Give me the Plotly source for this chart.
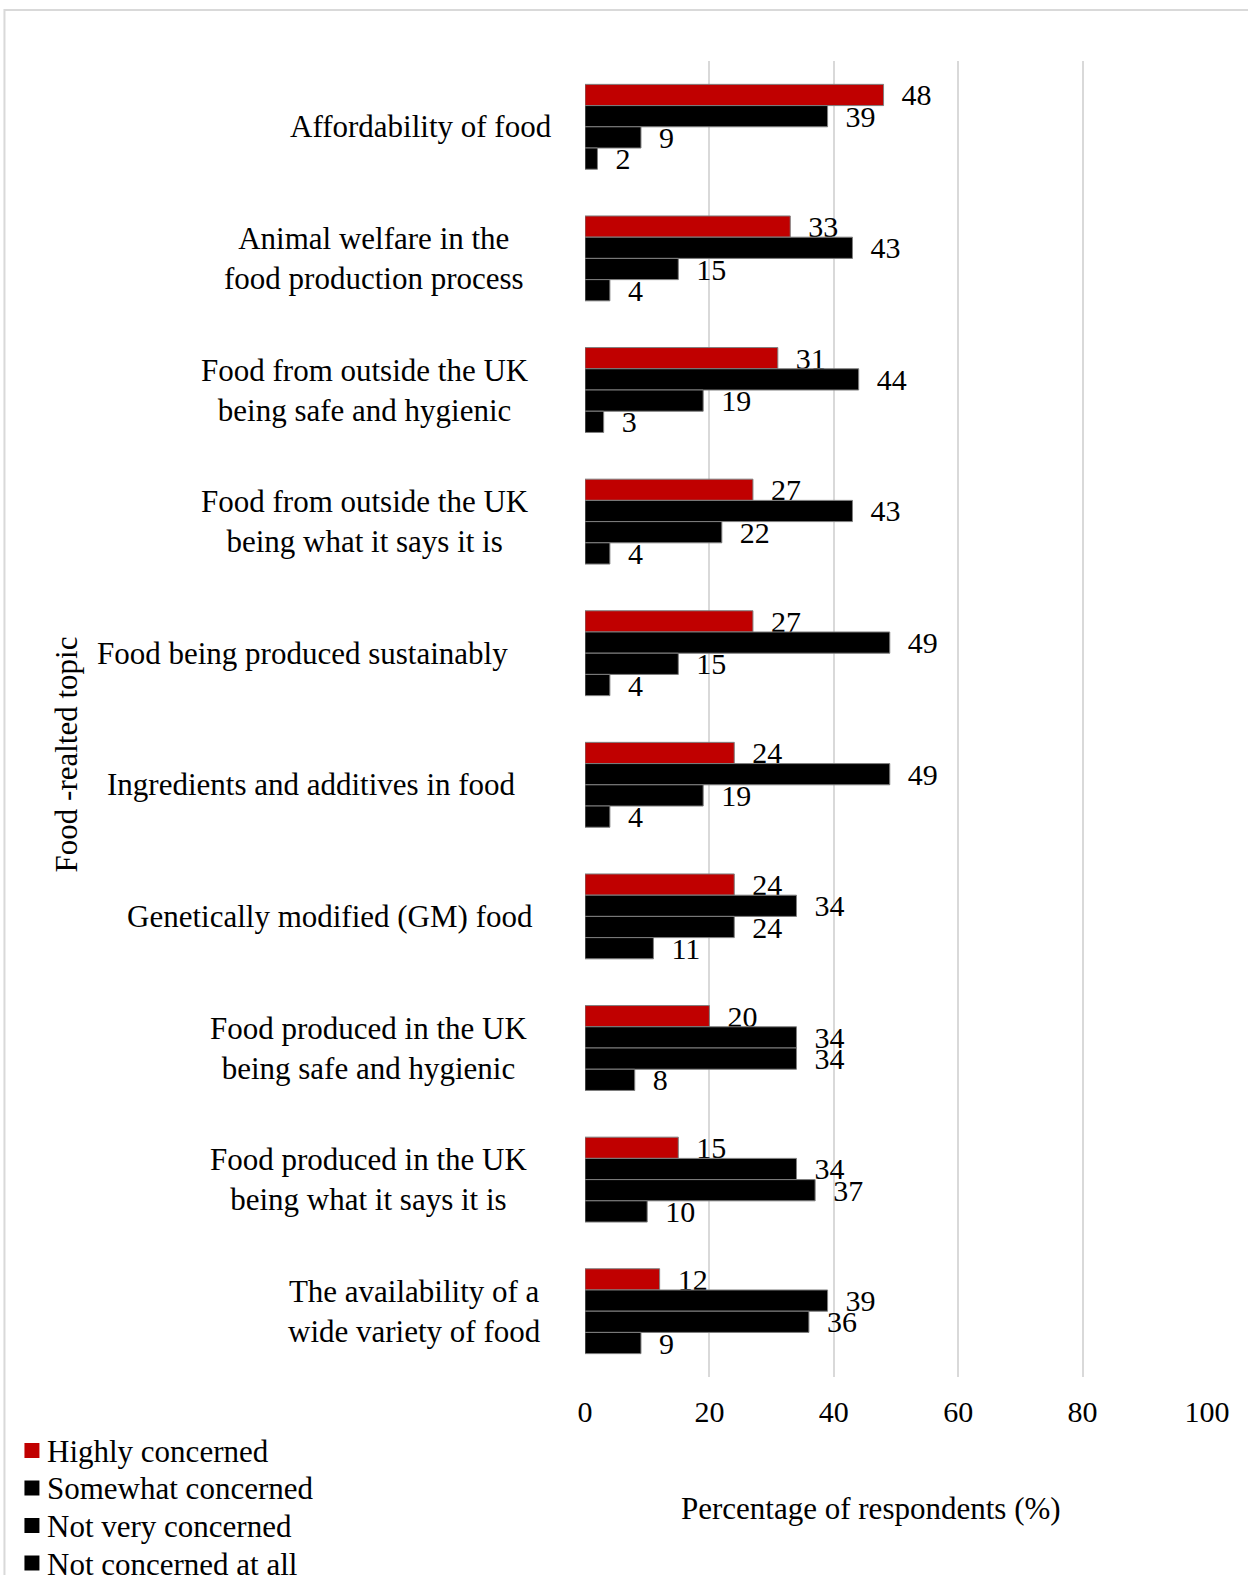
import plotly.graph_objects as go

categories = [
    "Affordability of food",
    "Animal welfare in the<br>food production process",
    "Food from outside the UK<br>being safe and hygienic",
    "Food from outside the UK<br>being what it says it is",
    "Food being produced sustainably",
    "Ingredients and additives in food",
    "Genetically modified (GM) food",
    "Food produced in the UK<br>being safe and hygienic",
    "Food produced in the UK<br>being what it says it is",
    "The availability of a<br>wide variety of food",
]
series_names = ["Highly concerned", "Somewhat concerned", "Not very concerned", "Not concerned at all"]
highly = [48, 33, 31, 27, 27, 24, 24, 20, 15, 12]
somewhat = [39, 43, 44, 43, 49, 49, 34, 34, 34, 39]
not_very = [9, 15, 19, 22, 15, 19, 24, 34, 37, 36]
not_at_all = [2, 4, 3, 4, 4, 4, 11, 8, 10, 9]
x_ticks = [0, 20, 40, 60, 80, 100]

series_values = [highly, somewhat, not_very, not_at_all]
colors = ["#C00000", "#000000", "#000000", "#000000"]

FONT = "Liberation Serif, Times New Roman, serif"
W, H = 1248, 1575
L, R, T, B = 585, 40.5, 61, 198
pw, ph = W - L - R, H - T - B

def px_x(p):
    return (p - L) / pw

def px_y(p):
    return (H - B - p) / ph

fig = go.Figure()
for name, vals, col in zip(series_names, series_values, colors):
    fig.add_trace(go.Bar(
        y=categories, x=vals, name=name, orientation="h",
        marker=dict(color=col, line=dict(color="#7f7f7f", width=1)),
        text=vals, texttemplate="\u00a0\u00a0%{x}", textposition="outside",
        constraintext="none", cliponaxis=False, showlegend=False,
        textfont=dict(family=FONT, size=30, color="black"),
    ))

# category label centres (pixels) - Excel-style centred wrapped labels
label_centres = [421, 374, 365, 365, 302, 311, 330, 368, 368, 414]
annotations = []
for cat, cx in zip(categories, label_centres):
    annotations.append(dict(
        x=px_x(cx), xref="paper", y=cat, yref="y", text=cat, showarrow=False,
        xanchor="center", yanchor="middle", align="center",
        font=dict(family=FONT, size=31, color="black"),
    ))
annotations.append(dict(
    x=px_x(66), xref="paper", y=px_y(754), yref="paper", text="Food -realted topic",
    showarrow=False, textangle=-90, xanchor="center", yanchor="middle",
    font=dict(family=FONT, size=31, color="black"),
))
annotations.append(dict(
    x=px_x(871), xref="paper", y=px_y(1508), yref="paper", text="Percentage of respondents (%)",
    showarrow=False, xanchor="center", yanchor="middle",
    font=dict(family=FONT, size=31, color="black"),
))

# legend (Excel-style, bottom-left)
shapes = [dict(type="rect", xref="paper", yref="paper", x0=px_x(4), x1=px_x(1260),
               y0=px_y(1600), y1=px_y(10), line=dict(color="#d9d9d9", width=2), layer="below")]
legend_y = [1450.5, 1488, 1525.5, 1563]
for name, col, cy in zip(series_names, colors, legend_y):
    shapes.append(dict(type="rect", xref="paper", yref="paper",
                       x0=px_x(24), x1=px_x(39), y0=px_y(cy + 7.5), y1=px_y(cy - 7.5),
                       fillcolor=col, line=dict(width=0)))
    annotations.append(dict(
        x=px_x(45), xref="paper", y=px_y(cy + 1), yref="paper", text=name, showarrow=False,
        xanchor="left", yanchor="middle", font=dict(family=FONT, size=31, color="black"),
    ))

fig.update_layout(
    width=W, height=H,
    margin=dict(l=L, r=R, t=T, b=B),
    paper_bgcolor="white", plot_bgcolor="white",
    barmode="group", bargap=0.355, bargroupgap=0,
    showlegend=False,
    font=dict(family=FONT, size=30, color="black"),
    xaxis=dict(range=[0, 100], tickvals=x_ticks, showgrid=True, gridcolor="#d9d9d9", gridwidth=2,
               zeroline=False, showline=False, ticks="", ticklabelstandoff=14,
               tickfont=dict(family=FONT, size=30, color="black")),
    yaxis=dict(autorange="reversed", showticklabels=False, showgrid=False, zeroline=False, showline=False, ticks=""),
    annotations=annotations,
    shapes=shapes,
)
fig.write_html("out.html", config={"displayModeBar": False},
               post_script="document.body.style.margin='0';document.body.style.overflow='hidden';")
